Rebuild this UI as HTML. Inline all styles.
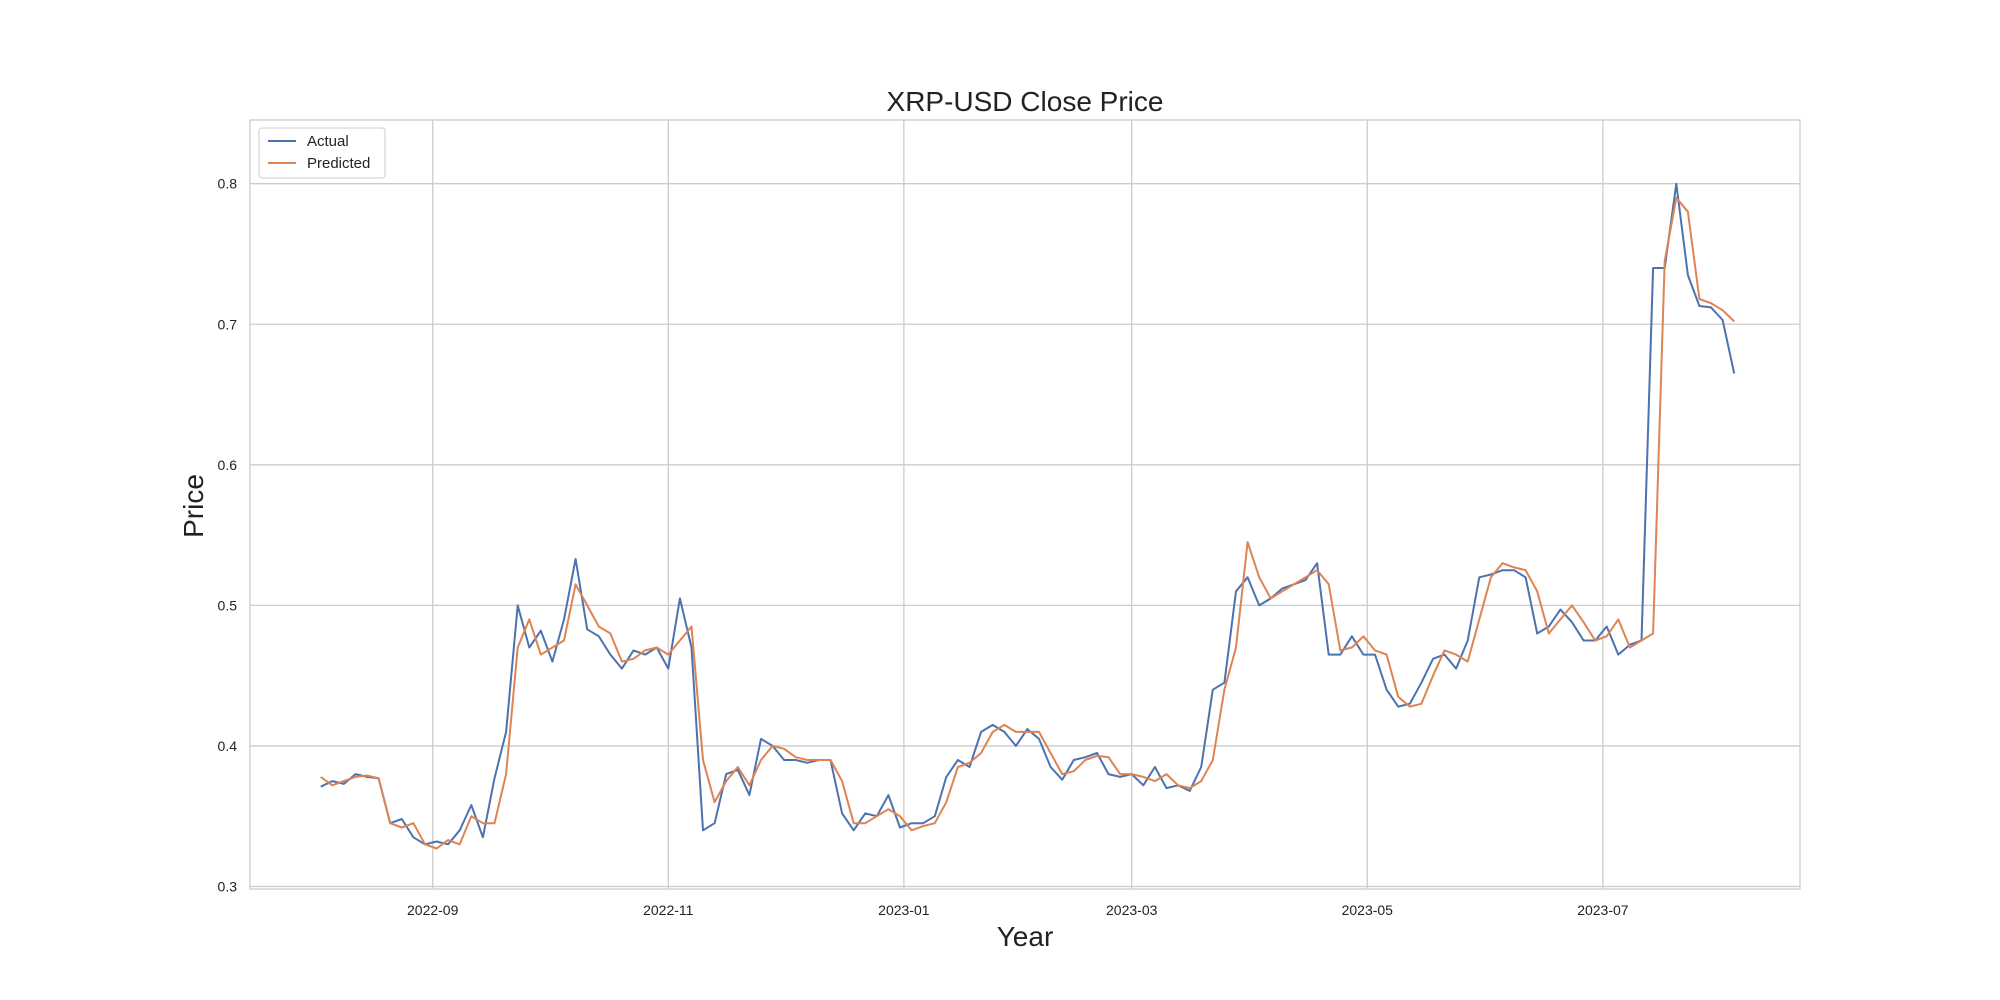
<!DOCTYPE html>
<html><head><meta charset="utf-8"><style>
html,body{margin:0;padding:0;background:#fff;}
svg{display:block;font-family:"Liberation Sans","DejaVu Sans",sans-serif;}
</style></head><body>
<svg id="chart" width="2000" height="1000" viewBox="0 0 2000 1000">
<rect x="0" y="0" width="2000" height="1000" fill="#fff"/>
<g id="grid"></g>
<g id="series"></g>
<rect x="250" y="120" width="1550" height="769" fill="none" stroke="#cccccc" stroke-width="1.3"/>
<g id="ticks"></g>
<text x="1025" y="111" font-size="28" text-anchor="middle" fill="#222">XRP-USD Close Price</text>
<text x="1025" y="946" font-size="28" text-anchor="middle" fill="#222">Year</text>
<text x="0" y="0" font-size="28" text-anchor="middle" fill="#222" transform="translate(203,506) rotate(-90)">Price</text>
<g>
<rect x="259" y="128" width="126" height="50" rx="3" fill="#fff" fill-opacity="0.8" stroke="#cccccc" stroke-width="1"/>
<line x1="268" y1="141" x2="296" y2="141" stroke="#4c72b0" stroke-width="2"/>
<text x="307" y="146" font-size="15" fill="#222">Actual</text>
<line x1="268" y1="163" x2="296" y2="163" stroke="#dd8452" stroke-width="2"/>
<text x="307" y="168" font-size="15" fill="#222">Predicted</text>
</g>
</svg>
<script>
const startDate = "2022-08-03";
const stepDays = 3;
const actual = [0.371,0.375,0.373,0.38,0.378,0.377,0.345,0.348,0.335,0.33,0.332,0.33,0.34,0.358,0.335,0.377,0.41,0.5,0.47,0.482,
0.46,0.49,0.533,0.483,0.478,0.465,0.455,0.468,0.465,0.47,0.455,0.505,0.47,0.34,0.345,0.38,0.383,0.365,0.405,0.4,
0.39,0.39,0.388,0.39,0.39,0.352,0.34,0.352,0.35,0.365,0.342,0.345,0.345,0.35,0.378,0.39,0.385,0.41,0.415,0.41,
0.4,0.412,0.405,0.385,0.376,0.39,0.392,0.395,0.38,0.378,0.38,0.372,0.385,0.37,0.372,0.368,0.385,0.44,0.445,0.51,
0.52,0.5,0.505,0.512,0.515,0.518,0.53,0.465,0.465,0.478,0.465,0.465,0.44,0.428,0.43,0.445,0.462,0.465,0.455,0.475,
0.52,0.522,0.525,0.525,0.52,0.48,0.485,0.497,0.488,0.475,0.475,0.485,0.465,0.472,0.475,0.74,0.74,0.8,0.735,0.713,
0.712,0.703,0.665];
const predicted = [0.378,0.372,0.375,0.378,0.379,0.377,0.345,0.342,0.345,0.33,0.327,0.333,0.33,0.35,0.345,0.345,0.38,0.47,0.49,0.465,
0.47,0.475,0.515,0.5,0.485,0.48,0.46,0.462,0.468,0.47,0.465,0.475,0.485,0.39,0.36,0.375,0.385,0.372,0.39,0.4,
0.398,0.392,0.39,0.39,0.39,0.375,0.345,0.345,0.35,0.355,0.35,0.34,0.343,0.345,0.36,0.385,0.388,0.395,0.41,0.415,
0.41,0.41,0.41,0.395,0.38,0.382,0.39,0.393,0.392,0.38,0.38,0.378,0.375,0.38,0.372,0.37,0.375,0.39,0.44,0.47,
0.545,0.52,0.505,0.51,0.515,0.52,0.525,0.515,0.468,0.47,0.478,0.468,0.465,0.435,0.428,0.43,0.45,0.468,0.465,0.46,
0.49,0.52,0.53,0.527,0.525,0.51,0.48,0.49,0.5,0.488,0.475,0.478,0.49,0.47,0.475,0.48,0.745,0.79,0.78,0.718,
0.715,0.71,0.702];
const yTicks = [0.3,0.4,0.5,0.6,0.7,0.8];
const xTickDates = ["2022-09-01","2022-11-01","2023-01-01","2023-03-01","2023-05-01","2023-07-01"];
const xTickLabels = ["2022-09","2022-11","2023-01","2023-03","2023-05","2023-07"];

const NS = "http://www.w3.org/2000/svg";
const DAY = 86400000;
const x0 = Date.parse("2022-09-01T00:00:00Z");
function xScale(t){ return 432.7 + (t - x0) / DAY * 3.862; }
function yScale(v){ return 886.5 - (v - 0.3) * 1405.6; }
function dateAt(i){ return Date.parse(startDate + "T00:00:00Z") + i * stepDays * DAY; }

const grid = document.getElementById("grid");
const ticks = document.getElementById("ticks");
const series = document.getElementById("series");

yTicks.forEach(v => {
  const y = yScale(v);
  const l = document.createElementNS(NS, "line");
  l.setAttribute("x1", 250); l.setAttribute("x2", 1800);
  l.setAttribute("y1", y); l.setAttribute("y2", y);
  l.setAttribute("stroke", "#cccccc"); l.setAttribute("stroke-width", "1.3");
  
  
  grid.appendChild(l);
  const t = document.createElementNS(NS, "text");
  t.setAttribute("x", 237); t.setAttribute("y", y + 5);
  t.setAttribute("font-size", "14"); t.setAttribute("text-anchor", "end"); t.setAttribute("fill", "#222");
  t.textContent = v.toFixed(1);
  
  
  ticks.appendChild(t);
});
xTickDates.forEach((d, i) => {
  const x = xScale(Date.parse(d + "T00:00:00Z"));
  const l = document.createElementNS(NS, "line");
  l.setAttribute("x1", x); l.setAttribute("x2", x);
  l.setAttribute("y1", 120); l.setAttribute("y2", 889);
  l.setAttribute("stroke", "#cccccc"); l.setAttribute("stroke-width", "1.3");
  
  
  grid.appendChild(l);
  const t = document.createElementNS(NS, "text");
  t.setAttribute("x", x); t.setAttribute("y", 915);
  t.setAttribute("font-size", "14"); t.setAttribute("text-anchor", "middle"); t.setAttribute("fill", "#222");
  t.textContent = xTickLabels[i];
  
  
  ticks.appendChild(t);
});

function drawLine(vals, color, name){
  const pts = vals.map((v, i) => xScale(dateAt(i)).toFixed(1) + "," + yScale(v).toFixed(1)).join(" ");
  const p = document.createElementNS(NS, "polyline");
  p.setAttribute("points", pts);
  p.setAttribute("fill", "none"); p.setAttribute("stroke", color);
  p.setAttribute("stroke-width", "2"); p.setAttribute("stroke-linejoin", "round");
  
  
  series.appendChild(p);
}
drawLine(actual, "#4c72b0", "actual-line");
drawLine(predicted, "#dd8452", "predicted-line");
</script>
</body></html>
